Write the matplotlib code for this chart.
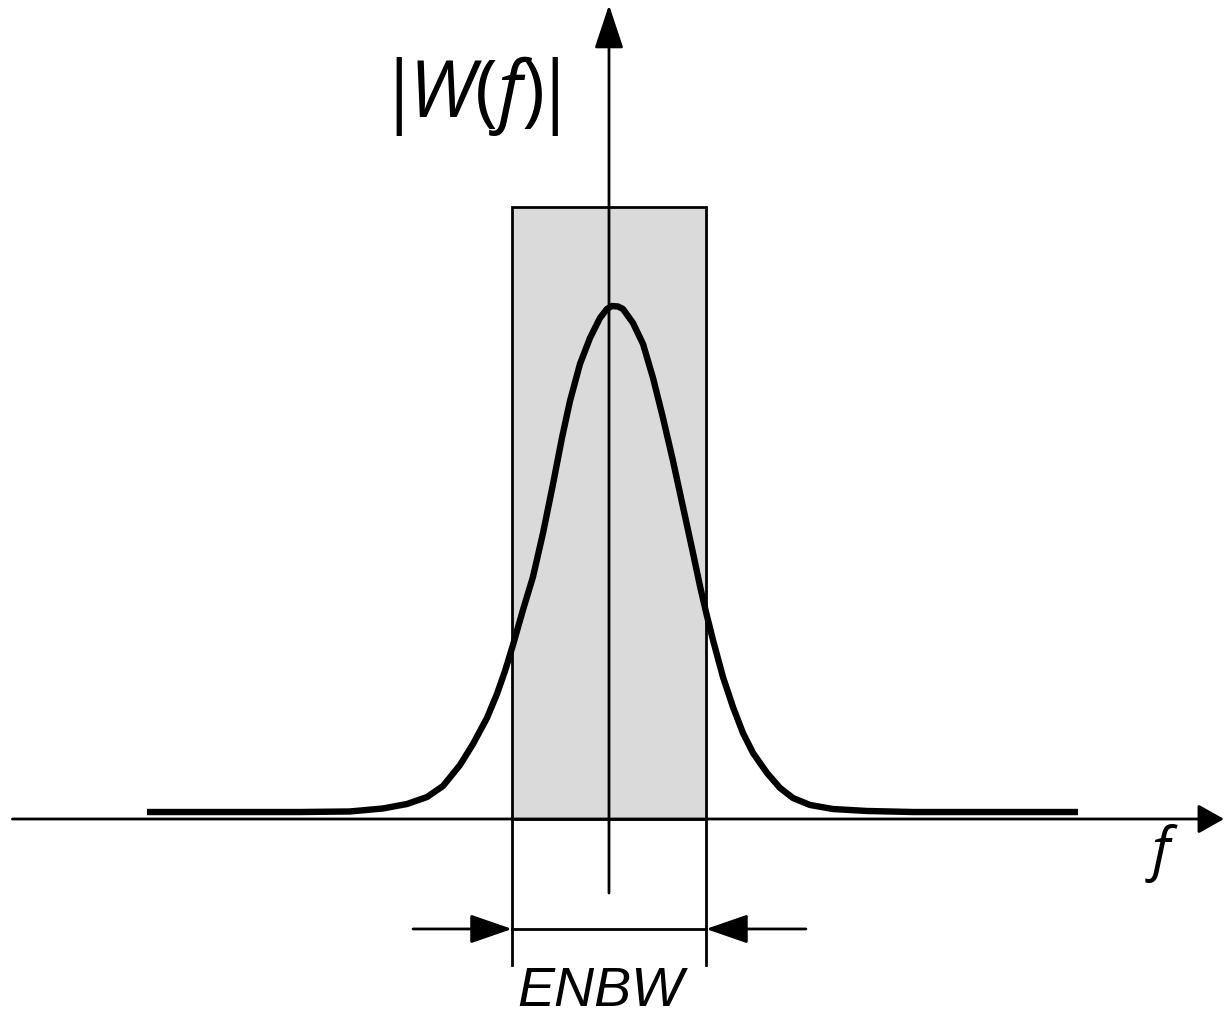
import numpy as np
import matplotlib
matplotlib.use("Agg")
import matplotlib.pyplot as plt
from matplotlib.patches import Rectangle

plt.rcParams["mathtext.fontset"] = "custom"
plt.rcParams["mathtext.rm"] = "Open Sans"
plt.rcParams["mathtext.it"] = "Open Sans:italic"

# window spectrum |W(f)| (f in units of ENBW/2, rect height = 1)
freq = [-4.763, -3.186, -2.670, -2.330, -2.082, -1.876, -1.711, -1.536, -1.402,
        -1.258, -1.155, -1.072, -0.990, -0.887, -0.784, -0.680, -0.577, -0.485,
        -0.402, -0.299, -0.196, -0.093, -0.021, 0.031, 0.093, 0.144, 0.247,
        0.351, 0.454, 0.557, 0.660, 0.763, 0.866, 0.938, 1.000, 1.072, 1.175,
        1.278, 1.381, 1.485, 1.629, 1.763, 1.897, 2.072, 2.309, 2.660, 3.134,
        4.835]
mag = [0.0114, 0.0114, 0.0123, 0.0172, 0.0245, 0.0359, 0.0539, 0.0882, 0.1225,
       0.1650, 0.2042, 0.2418, 0.2843, 0.3415, 0.3954, 0.4673, 0.5474, 0.6225,
       0.6830, 0.7435, 0.7859, 0.8186, 0.8333, 0.8382, 0.8374, 0.8333, 0.8105,
       0.7761, 0.7206, 0.6552, 0.5850, 0.5098, 0.4346, 0.3807, 0.3382, 0.2925,
       0.2320, 0.1830, 0.1405, 0.1078, 0.0752, 0.0507, 0.0343, 0.0229, 0.0163,
       0.0131, 0.0114, 0.0114]

enbw_lo, enbw_hi = -1.0, 1.0
rect_height = 1.0

fig = plt.figure(figsize=(12.24, 10.19), dpi=100)
ax = fig.add_axes([0, 0, 1, 1])
ax.set_xlim(-6.278, 6.340)
ax.set_ylim(-0.3268, 1.3382)
ax.axis("off")

lw_thin = 2.0

# equivalent rectangle
ax.add_patch(Rectangle((enbw_lo, 0), enbw_hi - enbw_lo, rect_height,
                       facecolor="#dadada", edgecolor="black", lw=lw_thin, zorder=1))

def arrow(tip, tail, hl):
    ax.annotate("", xy=tip, xytext=tail,
                arrowprops=dict(arrowstyle=f"-|>,head_length={hl},head_width=9",
                                mutation_scale=1, lw=lw_thin, color="black",
                                shrinkA=0, shrinkB=0), zorder=3)

# axes with arrows
arrow((6.34, 0), (-6.15, 0), 16)
arrow((0, 1.330), (0, -0.121), 27)

# spectrum curve
ax.plot(freq, mag, color="black", lw=4.6, solid_capstyle="butt",
        solid_joinstyle="round", zorder=4)

# ENBW dimension
for fx in (enbw_lo, enbw_hi):
    ax.plot([fx, fx], [0, -0.2386], color="black", lw=lw_thin, zorder=2)
ax.plot([enbw_lo, enbw_hi], [-0.1797, -0.1797], color="black", lw=lw_thin)
arrow((enbw_lo, -0.1797), (-2.02, -0.1797), 26)
arrow((enbw_hi, -0.1797), (2.03, -0.1797), 26)

ax.text(-0.09, -0.306, "ENBW", family="Liberation Sans", style="italic",
        fontsize=40, ha="center", va="baseline")
ax.text(5.69, -0.056, "f", family="Open Sans", style="italic",
        fontsize=42, ha="center", va="center")
ax.text(-1.45, 1.147, r"$|\!\mathit{W(f)}\!|$", fontsize=56,
        ha="center", va="baseline")

fig.savefig("out.png", dpi=100)
